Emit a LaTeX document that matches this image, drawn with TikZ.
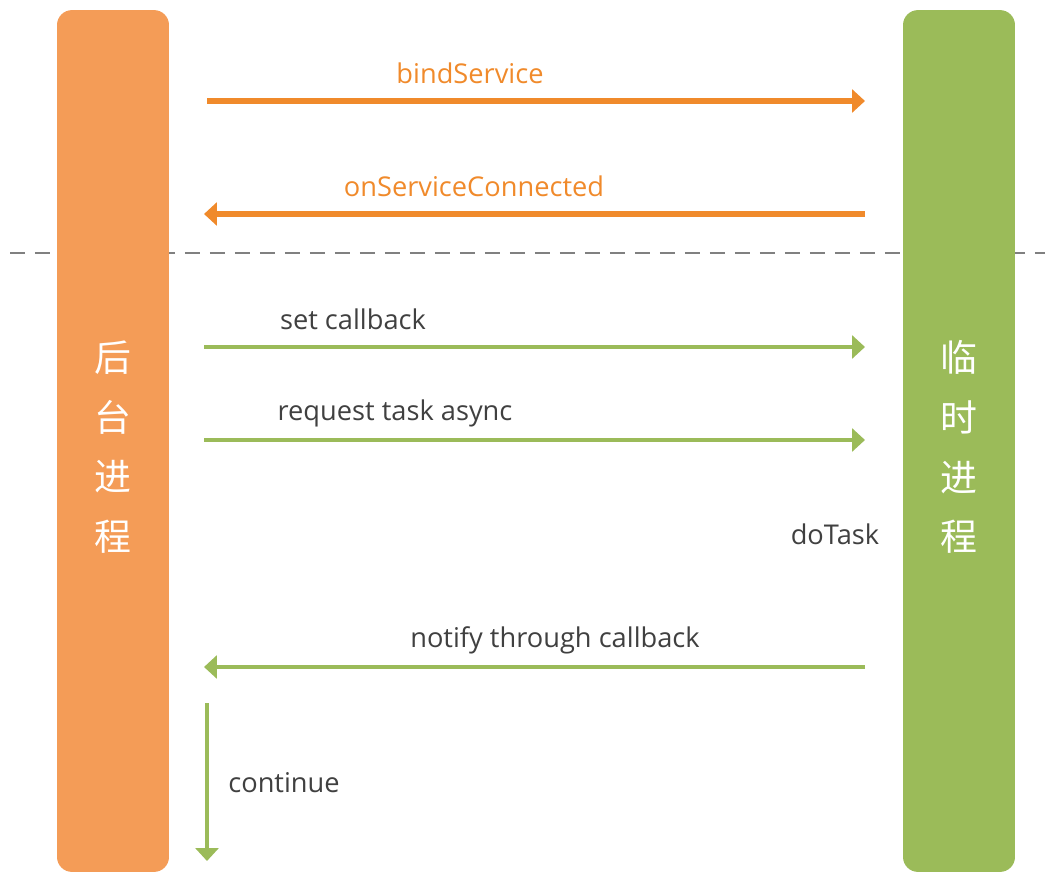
\documentclass[tikz,border=0pt]{standalone}
\usepackage{fontspec}
\setmainfont{Open Sans}
\newfontfamily\cjk{Noto Sans CJK SC}
\usetikzlibrary{
  arrows.meta,
  positioning
}
\definecolor{barorange}{HTML}{F49C57}
\definecolor{msgorange}{HTML}{F08A2B}
\definecolor{bargreen}{HTML}{9BBB59}
\definecolor{txtgray}{HTML}{404040}
\tikzset{
  procbar/.style={rounded corners=0.3cm,minimum width=2.24cm,minimum height=17.24cm,inner sep=0pt},
  proclabel/.style={text=white,font=\cjk\fontsize{21}{34}\selectfont,align=center,inner sep=0pt},
  msg/.style={line width=3.2pt,-{Triangle[length=0.26cm,width=0.46cm]}},
  msgtext/.style={font=\fontsize{15.5}{18}\selectfont,inner sep=0pt}
}

\begin{document}
\begin{tikzpicture}[x=0.02cm,y=-0.02cm]
\useasboundingbox (0,0) rectangle (1045,875);
\draw[gray,line width=1.2pt,dash pattern=on 0.3cm off 0.2cm] (10,253) -- (1045,253);
\node[procbar,fill=barorange] (host) at (113,441) {};
\node[procbar,fill=bargreen] (temp) at (959,441) {};
\node[proclabel] (hostname) at (113,447) {后\\台\\进\\程};
\node[proclabel] (tempname) at (959,447) {临\\时\\进\\程};
% endpoints next to the bars
\coordinate (h1) at (207,101); \coordinate (t1) at (865,101);
\coordinate (h2) at (204,214); \coordinate (t2) at (865,214);
\coordinate (h3) at (204,347); \coordinate (t3) at (865,347);
\coordinate (h4) at (204,440); \coordinate (t4) at (865,440);
\coordinate (h5) at (204,667); \coordinate (t5) at (865,667);
\coordinate (c1) at (207,703); \coordinate (c2) at (207,861);
\draw[msg,msgorange] (h1) -- (t1);
\draw[msg,msgorange] (t2) -- (h2);
\draw[msg,bargreen,line width=2.8pt] (h3) -- (t3);
\draw[msg,bargreen,line width=2.8pt] (h4) -- (t4);
\draw[msg,bargreen,line width=2.8pt] (t5) -- (h5);
\draw[msg,bargreen,line width=2.8pt] (c1) -- (c2);
\node[msgtext,text=msgorange] (bind) at (470,73) {bindService};
\node[msgtext,text=msgorange] (conn) at (474,186) {onServiceConnected};
\node[msgtext,text=txtgray] (setcb) at (353,319) {set callback};
\node[msgtext,text=txtgray] (req) at (395,413) {request task async};
\node[msgtext,text=txtgray] (dotask) at (835,534) {doTask};
\node[msgtext,text=txtgray] (notify) at (555,640) {notify through callback};
\node[msgtext,text=txtgray,anchor=west] (cont) at (228,783) {continue};
\end{tikzpicture}
\end{document}
